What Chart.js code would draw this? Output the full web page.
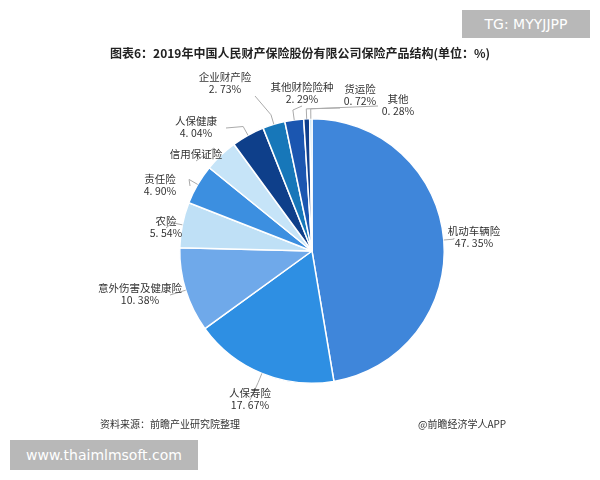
<!DOCTYPE html>
<html><head><meta charset="utf-8">
<script src="https://cdn.jsdelivr.net/npm/chart.js@4"></script>
<style>
body{margin:0;background:#fff;font-family:"Noto Sans CJK SC",sans-serif;}
#wrap{position:relative;width:600px;height:480px;}
.t{position:absolute;white-space:nowrap;}
</style></head><body>
<div id="wrap">
<canvas id="c" width="600" height="480"></canvas>
<div class="t" style="left:0;right:0;top:44px;text-align:center;font-size:12px;font-weight:bold;color:#222">图表6：2019年中国人民财产保险股份有限公司保险产品结构(单位：%)</div>
<div class="t" style="left:462px;top:10px;width:128px;height:28px;line-height:28px;background:#b8b8b8;color:#fff;font-size:14px;text-align:center;font-family:'DejaVu Sans'">TG: MYYJJPP</div>
<div class="t" style="left:10px;top:440px;width:188px;height:30px;line-height:30px;background:#b8b8b8;color:#fff;font-size:14px;text-align:center;font-family:'DejaVu Sans'">www.thaimlmsoft.com</div>
<div class="t" style="left:100px;top:416px;font-size:10px;color:#333">资料来源：前瞻产业研究院整理</div>
<div class="t" style="left:418px;top:416px;font-size:10px;color:#333">@前瞻经济学人APP</div>
</div>
<script>
const categories=["机动车辆险","人保寿险","意外伤害及健康险","农险","责任险","信用保证险","人保健康","企业财产险","其他财险险种","货运险","其他"];
const values=[47.35,17.67,10.38,5.54,4.90,4.10,4.04,2.73,2.29,0.72,0.28];
const valueLabels=["47.35%","17.67%","10.38%","5.54%","4.90%","","4.04%","2.73%","2.29%","0.72%","0.28%"];
const colors=["#3f86da","#2e8fe3","#6fa9ea","#bfe0f6","#3c8fe0","#c6e4f8","#0e3f8a","#1777b9","#1b56b0","#0f3f8c","#a9d5f1"];
const labelPos=[[474,236],[250,398],[140,293],[166,226],[160,184],[196,159],[196,126],[225,82],[302,92],[360,94],[398,104]];
const labelPlugin={id:'lbl',afterDraw(chart){
 const ctx=chart.ctx,arcs=chart.getDatasetMeta(0).data;
 ctx.save();ctx.font='10.5px "Noto Sans CJK SC"';ctx.textAlign='center';
 arcs.forEach((a,i)=>{
  const mid=(a.startAngle+a.endAngle)/2,r=a.outerRadius;
  const x0=a.x+Math.cos(mid)*r,y0=a.y+Math.sin(mid)*r;
  const x1=a.x+Math.cos(mid)*(r+10),y1=a.y+Math.sin(mid)*(r+10);
  const [lx,ly]=labelPos[i];
  const ex=lx+(x1<lx-20?-20:(x1>lx+20?30:0)),ey=ly+(y1>ly+10?14:2);
  ctx.strokeStyle='#aaa';ctx.lineWidth=1;ctx.beginPath();ctx.moveTo(x0,y0);ctx.lineTo(x1,y1);ctx.lineTo(ex,ey);ctx.stroke();
  ctx.fillStyle='#333';ctx.textBaseline='bottom';
  ctx.fillText(categories[i],lx,ly);
  ctx.textBaseline='top';ctx.fillText(valueLabels[i].replace('.', '. '),lx,ly+2);
 });
 ctx.restore();}};
new Chart(document.getElementById('c'),{type:'pie',
 data:{labels:categories,datasets:[{data:values,backgroundColor:colors,borderColor:'#fff',borderWidth:1.5}]},
 options:{responsive:false,animation:false,layout:{padding:{top:118,bottom:96,left:174,right:150}},
  plugins:{legend:{display:false},tooltip:{enabled:false}}},
 plugins:[labelPlugin]});
</script></body></html>
